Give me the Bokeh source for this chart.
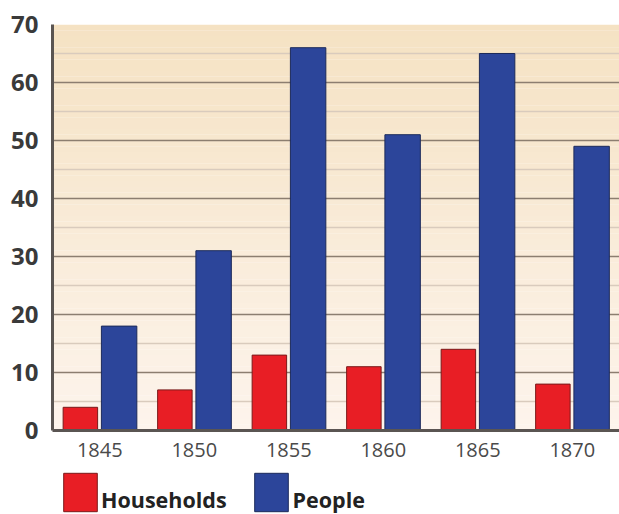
from bokeh.plotting import figure
from bokeh.layouts import column
from bokeh.models import (ColumnDataSource, FactorRange, FixedTicker, BoxAnnotation,
                          Legend, LegendItem)
from bokeh.transform import dodge
from bokeh.embed import file_html
from bokeh.resources import INLINE

years = ["1845", "1850", "1855", "1860", "1865", "1870"]
households = [4, 7, 13, 11, 14, 8]
people = [18, 31, 66, 51, 65, 49]
y_ticks = [0, 10, 20, 30, 40, 50, 60, 70]
y_minor = [5, 15, 25, 35, 45, 55, 65]
series_names = ["Households", "People"]
series_fill = ["#e81e25", "#2c459a"]
series_line = ["#7a1a1a", "#1c2a5a"]

src = ColumnDataSource(dict(year=years, households=households, people=people))

p = figure(x_range=FactorRange(*years), y_range=(0, 70),
           frame_width=567, frame_height=406, output_backend="svg", toolbar_location=None,
           min_border_left=52, min_border_right=0, min_border_top=24, min_border_bottom=38)

# gradient background (tan at top to near white at bottom)
top_c = (245, 226, 195)
bot_c = (253, 244, 236)
n = 70
for i in range(n):
    t = i / (n - 1)
    c = tuple(int(round(bot_c[k] + (top_c[k] - bot_c[k]) * t)) for k in range(3))
    p.add_layout(BoxAnnotation(bottom=70 * i / n, top=70 * (i + 1) / n,
                               fill_color="#%02x%02x%02x" % c, fill_alpha=1,
                               line_color=None, level="image"))

p.vbar(x=dodge("year", -0.205, range=p.x_range), top="households", width=0.365,
       source=src, fill_color=series_fill[0], line_color=series_line[0], line_width=1)
p.vbar(x=dodge("year", 0.205, range=p.x_range), top="people", width=0.375,
       source=src, fill_color=series_fill[1], line_color=series_line[1], line_width=1)

p.yaxis.ticker = FixedTicker(ticks=y_ticks, minor_ticks=y_minor)
p.ygrid.ticker = FixedTicker(ticks=y_ticks, minor_ticks=y_minor)
p.ygrid.grid_line_color = "#8c7e70"
p.ygrid.grid_line_width = 1.5
p.ygrid.minor_grid_line_color = "#d9cbbd"
p.ygrid.minor_grid_line_width = 1.5
p.xgrid.grid_line_color = None
p.outline_line_color = None
p.background_fill_color = None

for ax in (p.xaxis, p.yaxis):
    ax.axis_line_color = "#5a5552"
    ax.axis_line_width = 3
    ax.major_tick_line_color = None
    ax.minor_tick_line_color = None
    ax.major_label_text_font = "Open Sans"

p.yaxis.major_label_text_font_size = "24px"
p.yaxis.major_label_text_font_style = "bold"
p.yaxis.major_label_text_color = "#3a3a3a"
p.yaxis.major_label_standoff = 8
p.xaxis.major_label_text_font_size = "20px"
p.xaxis.major_label_text_color = "#4a4a4a"
p.xaxis.major_label_standoff = 6

# legend strip below the chart (its frame is aligned with the chart frame)
q = figure(width=619, height=46, x_range=(0, 1), y_range=(0, 1),
           output_backend="svg", toolbar_location=None,
           min_border=0, outline_line_color=None)
q.axis.visible = False
q.grid.visible = False

swatch_items, label_items = [], []
for name, fc, lc in zip(series_names, series_fill, series_line):
    # legend swatch sources only: a single undrawn row (NaN height)
    r = q.vbar(x=[0.5], top=[float("nan")], width=0.1,
               fill_color=fc, line_color=lc, line_width=1)
    swatch_items.append(LegendItem(label="", renderers=[r]))
    r_blank = q.vbar(x=[0.5], top=[float("nan")], width=0.1,
                     fill_alpha=0, line_alpha=0)
    label_items.append(LegendItem(label=name, renderers=[r_blank]))

common = dict(orientation="horizontal", margin=0, padding=0,
              border_line_color=None, background_fill_alpha=0, label_standoff=0)

# colour swatches (aligned to the top of the strip)
swatches = Legend(items=swatch_items, location=(7, -2),
                  glyph_width=42, glyph_height=48, label_height=0, label_width=0,
                  spacing=149, label_text_font_size="1px", **common)
# series names (sitting on the bottom of the swatches)
labels = Legend(items=label_items, location=(7, -20),
                glyph_width=42, glyph_height=1, label_height=70,
                spacing=24,
                label_text_font="Open Sans", label_text_font_size="21.5px",
                label_text_font_style="bold", label_text_color="#222222",
                label_text_baseline="middle", **common)
q.add_layout(swatches)
q.add_layout(labels)

open("out.html", "w").write(file_html(column(p, q, spacing=0), INLINE))
